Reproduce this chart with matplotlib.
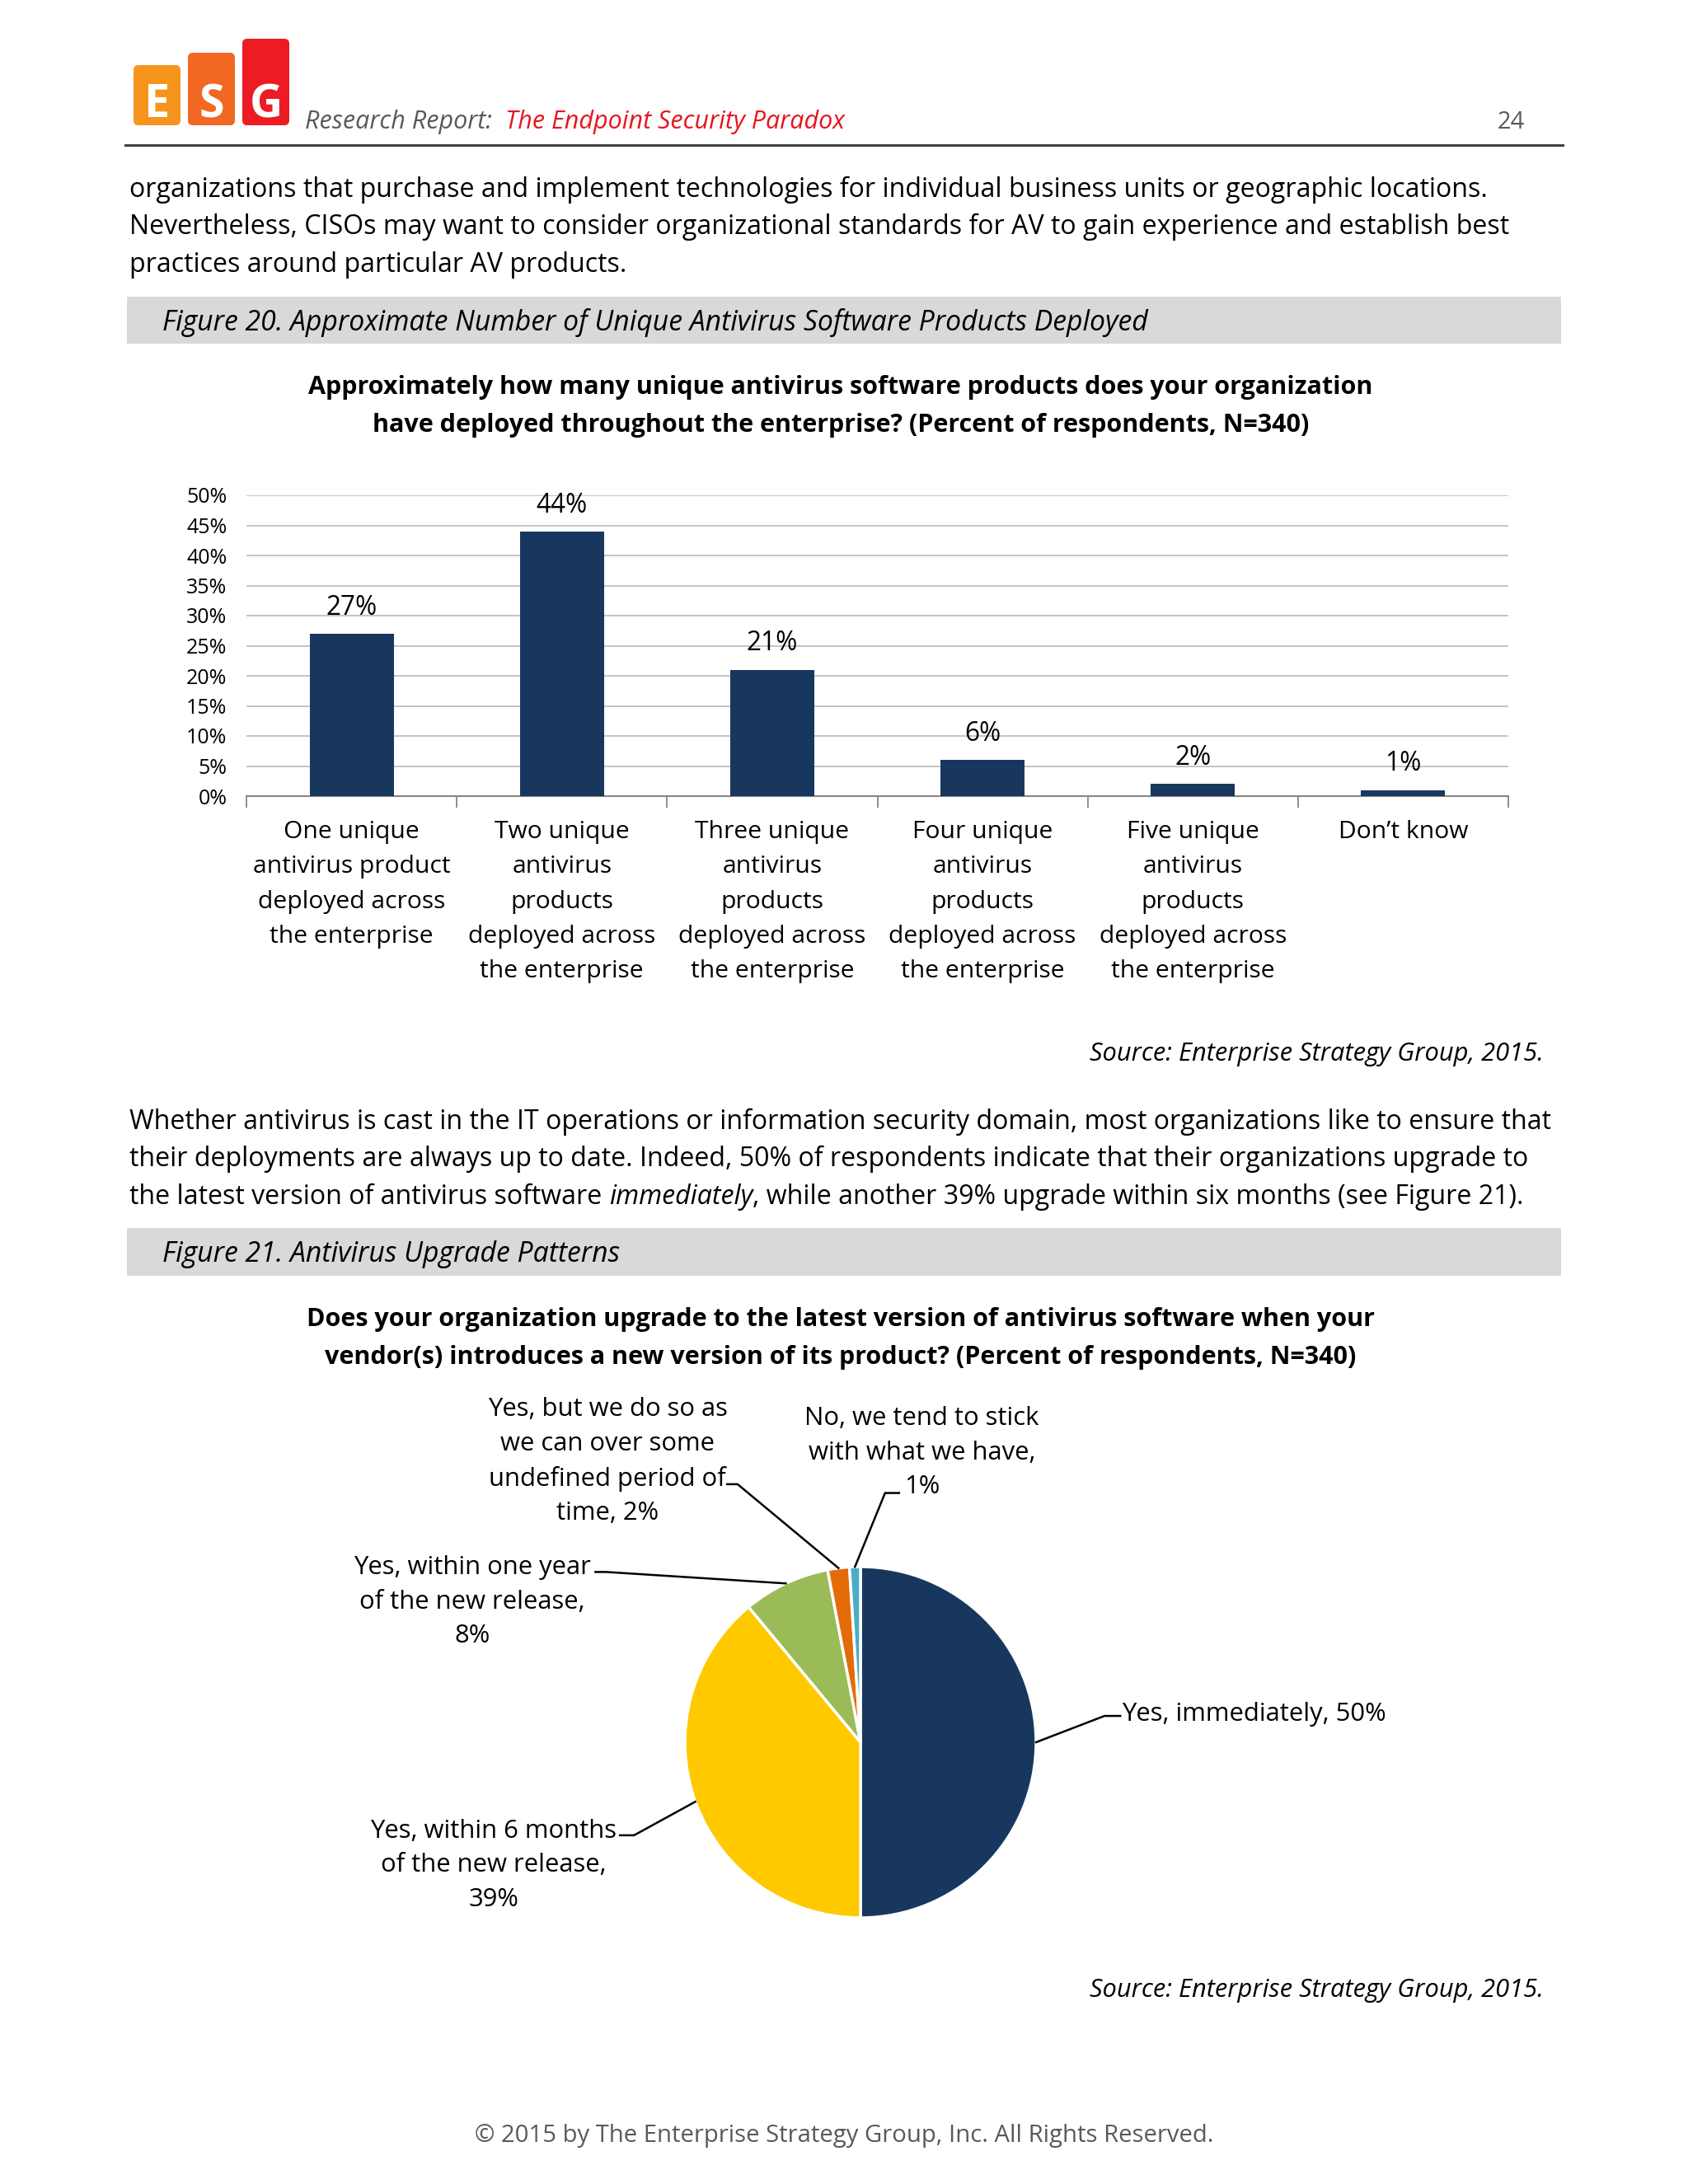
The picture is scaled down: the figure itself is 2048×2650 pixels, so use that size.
import numpy as np
import matplotlib
matplotlib.use("Agg")
import matplotlib.pyplot as plt
from matplotlib.patches import FancyBboxPatch, Rectangle

plt.rcParams['font.family'] = ['Open Sans', 'DejaVu Sans']

# ---- data ----
bar_categories = [
    "One unique\nantivirus product\ndeployed across\nthe enterprise",
    "Two unique\nantivirus\nproducts\ndeployed across\nthe enterprise",
    "Three unique\nantivirus\nproducts\ndeployed across\nthe enterprise",
    "Four unique\nantivirus\nproducts\ndeployed across\nthe enterprise",
    "Five unique\nantivirus\nproducts\ndeployed across\nthe enterprise",
    "Don\u2019t know",
]
bar_values = [27, 44, 21, 6, 2, 1]
y_ticks = [0, 5, 10, 15, 20, 25, 30, 35, 40, 45, 50]

pie_labels = [
    "Yes, immediately, 50%",
    "Yes, within 6 months\nof the new release,\n39%",
    "Yes, within one year\nof the new release,\n8%",
    "Yes, but we do so as\nwe can over some\nundefined period of\ntime, 2%",
    "No, we tend to stick\nwith what we have,\n1%",
]
pie_values = [50, 39, 8, 2, 1]
pie_colors = ["#17375E", "#FFC900", "#9BBB59", "#E36C09", "#4BACC6"]

body1 = [
    "organizations that purchase and implement technologies for individual business units or geographic locations.",
    "Nevertheless, CISOs may want to consider organizational standards for AV to gain experience and establish best",
    "practices around particular AV products.",
]
body2 = [
    "Whether antivirus is cast in the IT operations or information security domain, most organizations like to ensure that",
    "their deployments are always up to date. Indeed, 50% of respondents indicate that their organizations upgrade to",
]
body2_last = ["the latest version of antivirus software ", "immediately",
              ", while another 39% upgrade within six months (see Figure 21)."]

W, H = 2048, 2650
fig = plt.figure(figsize=(W / 100, H / 100), dpi=100)
fig.patch.set_facecolor("white")

# page layer in pixel coordinates
page = fig.add_axes((0, 0, 1, 1))
page.set_xlim(0, W)
page.set_ylim(H, 0)
page.axis("off")

BODY = 23.1
TITLE = 22
LABEL = 21.6
DARK = "#000000"

# logo
for (x0, y0, letter, col) in [(162, 79, "E", "#F7941D"), (228, 64, "S", "#F26722"), (294, 47, "G", "#ED1C24")]:
    page.add_patch(FancyBboxPatch((x0, y0), 57, 152 - y0, boxstyle="round,pad=0,rounding_size=6",
                                  facecolor=col, edgecolor="none"))
    page.text(x0 + 28.5, 128, letter, color="white", fontsize=40, fontweight="bold",
              ha="center", va="center")

# header
fig.canvas.draw()
r = fig.canvas.get_renderer()
t = page.text(370, 148, "Research Report:  ", fontsize=22, style="italic", color="#595959",
              va="center", ha="left")
bb = t.get_window_extent(renderer=r)
page.text(370 + bb.width, 148, "The Endpoint Security Paradox", fontsize=22, style="italic",
          color="#E8141E", va="center", ha="left")
page.text(1850, 148, "24", fontsize=21, color="#595959", va="center", ha="right")
page.plot([152, 1896], [176, 176], color="#404040", lw=2.2)

# body text 1
for i, line in enumerate(body1):
    page.text(157, 230 + i * 45.8, line, fontsize=BODY, color=DARK, va="center", ha="left")

# figure bands
for (yt, yb, label) in [(360, 417, "Figure 20. Approximate Number of Unique Antivirus Software Products Deployed"),
                        (1490, 1548, "Figure 21. Antivirus Upgrade Patterns")]:
    page.add_patch(Rectangle((154, yt), 1740, yb - yt, facecolor="#D9D9D9", edgecolor="none"))
    page.text(197, (yt + yb) / 2 + 3, label, fontsize=24.3, style="italic", color=DARK,
              va="center", ha="left")

# chart titles
page.text(1020, 470, "Approximately how many unique antivirus software products does your organization",
          fontsize=TITLE, fontweight="bold", ha="center", va="center")
page.text(1020, 516, "have deployed throughout the enterprise? (Percent of respondents, N=340)",
          fontsize=TITLE, fontweight="bold", ha="center", va="center")
page.text(1020, 1601, "Does your organization upgrade to the latest version of antivirus software when your",
          fontsize=TITLE, fontweight="bold", ha="center", va="center")
page.text(1020, 1647, "vendor(s) introduces a new version of its product? (Percent of respondents, N=340)",
          fontsize=TITLE, fontweight="bold", ha="center", va="center")

# sources
for ys in [1279, 2415]:
    page.text(1873, ys, "Source: Enterprise Strategy Group, 2015.", fontsize=22.2, style="italic",
              ha="right", va="center")

# body text 2
for i, line in enumerate(body2):
    page.text(157, 1361 + i * 45.8, line, fontsize=BODY, color=DARK, va="center", ha="left")
xcur = 157
for k, part in enumerate(body2_last):
    tt = page.text(xcur, 1361 + 2 * 45.8, part, fontsize=BODY, color=DARK, va="center", ha="left",
                   style="italic" if k == 1 else "normal")
    xcur += tt.get_window_extent(renderer=r).width

# footer
page.text(1024, 2592, "\u00a9 2015 by The Enterprise Strategy Group, Inc. All Rights Reserved.",
          fontsize=21.1, color="#595959", ha="center", va="center")

# ---- bar chart ----
ax = fig.add_axes((299 / W, 1 - 966 / H, (1830 - 299) / W, (966 - 601) / H))
ax.set_facecolor("none")
x = np.arange(len(bar_values))
ax.bar(x, bar_values, width=0.4, color="#17375E", zorder=3)
ax.set_xlim(-0.5, len(bar_values) - 0.5)
ax.set_ylim(0, 50)
ax.set_yticks(y_ticks)
ax.set_yticklabels([f"{v}%" for v in y_ticks], fontsize=18)
ax.yaxis.grid(True, color="#BFBFBF", lw=1.3, zorder=0)
ax.tick_params(axis="y", length=0, pad=17)
ax.set_xticks(x)
ax.set_xticklabels(bar_categories, fontsize=LABEL, va="top", linespacing=1.6)
ax.tick_params(axis="x", length=0, pad=21)
ax.set_xticks(np.arange(-0.5, len(bar_values)), minor=True)
ax.tick_params(axis="x", which="minor", length=10, width=1.3, color="#868686")
for s in ["top", "right", "left"]:
    ax.spines[s].set_visible(False)
ax.spines["bottom"].set_color("#868686")
ax.spines["bottom"].set_linewidth(1.5)
for xi, v in zip(x, bar_values):
    ax.annotate(f"{v}%", (xi, v), xytext=(0, 11), textcoords="offset points",
                ha="center", va="bottom", fontsize=22.8)

# ---- pie chart ----
cx, cy, rad = 1044, 2114, 213
px0, px1, py0, py1 = 200, 1850, 1660, 2380
pax = fig.add_axes((px0 / W, 1 - py1 / H, (px1 - px0) / W, (py1 - py0) / H))
pax.axis("off")
wedges, _ = pax.pie(pie_values, colors=pie_colors, startangle=90, counterclock=False,
                    wedgeprops=dict(edgecolor="white", linewidth=2.5), radius=1, center=(0, 0))
pax.set_xlim((px0 - cx) / rad, (px1 - cx) / rad)
pax.set_ylim(-(py1 - cy) / rad, (cy - py0) / rad)
pax.set_aspect("auto")

# label layout: (text x, text y, align, stub start, stub end) in pie units
layout = [
    (1.49, 0.16, "left", (1.39, 0.15), (1.48, 0.15)),
    (-2.09, -0.70, "center", (-1.29, -0.53), (-1.37, -0.53)),
    (-2.21, 0.80, "center", (-1.45, 0.97), (-1.51, 0.97)),
    (-1.44, 1.60, "center", (-0.70, 1.47), (-0.76, 1.47)),
    (0.35, 1.65, "center", (0.14, 1.42), (0.22, 1.42)),
]
for w, lab, (tx, ty, al, s0, s1) in zip(wedges, pie_labels, layout):
    mid = np.deg2rad((w.theta1 + w.theta2) / 2)
    ex, ey = np.cos(mid), np.sin(mid)
    pax.plot([ex, s0[0], s1[0]], [ey, s0[1], s1[1]], color="black", lw=1.8, zorder=1)
    pax.text(tx, ty, lab, ha=al, va="center", fontsize=22.3, multialignment="center",
             linespacing=1.5)

fig.savefig("out.png", dpi=100, facecolor="white")
